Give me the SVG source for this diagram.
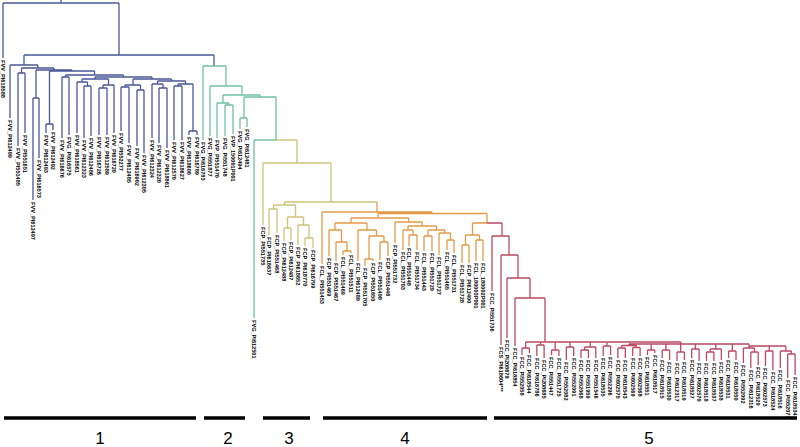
<svg xmlns="http://www.w3.org/2000/svg" width="800" height="447" viewBox="0 0 800 447">
<style>
.e{fill:none;stroke-width:1.3;stroke-linecap:butt}
.b{stroke:#4a5899}.g{stroke:#72c1a0}.y{stroke:#cdc37d}.o{stroke:#e39b48}.r{stroke:#bb4a62}
text{font-family:"Liberation Sans",Arial,sans-serif;font-size:5.6px;font-weight:bold;fill:#000}
.n{font-size:17px;font-weight:normal;text-anchor:middle;fill:#000}
.bar{stroke:#000;stroke-width:3.5}
</style>
<rect width="800" height="447" fill="#fff"/>
<g id="connectors">
<path class="e b" d="M61,0V3M3,3H119M3,3V58M119,3V55M24,55H214M214,55V66
M24,55V65M10,65H37.75M10,65V118M37.75,65V68M21.5,68H54
M21.5,68V73M18,73H25M18,73V146M25,73V133
M54,68V70M36,70H72M36,70V98M33,98H39M33,98V200M39,98V158
M72,70V71M49.5,71H94.5M49.5,71V124M46,124H53M46,124V133M53,124V130
M94.5,71V75M65.5,75H123.5M65.5,75V77M62,77H69M62,77V138M69,77V135
M123.5,75V77M95,77H152M95,77V79M82,79H108.5
M82,79V82M77,82H87.5M77,82V133M87.5,82V86M84,86H91M84,86V138M91,86V136
M108.5,79V85M103,85H114M103,85V88M99,88H107M99,88V135M107,88V135M114,85V133
M152,77V79M133,79H171.5M133,79V85M125,85H140.5
M125,85V87M121,87H129M121,87V131M129,87V143
M140.5,85V90M137,90H144M137,90V146M144,90V153
M171.5,79V81M157.5,81H185.5M157.5,81V84M152,84H163M152,84V138M163,84V88M159,88H167M159,88V143M167,88V148
M185.5,81V84M178,84H193M178,84V86M174,86H182M174,86V140M182,86V140M193,84V131M189,131H197M189,131V135M197,131V135"/>
<path class="e g" d="M203,66H226M203,66V140M226,66V86M210,86H242M210,86V136
M242,86V95M223,95H260M223,95V103M217,103H229M217,103V138M229,103V105M225,105H233M225,105V136M233,105V134
M260,95V97M244,97H276M244,97V118M240,118H247M240,118V129M247,118V127
M276,97V140M254,140H276M254,140V318"/>
<path class="e y" d="M276,140H297M297,140V163M263,163H331M263,163V225
M331,163V202M284.5,202H377M284.5,202V205M273.5,205H295.5
M273.5,205V209M269,209H277M269,209V235M277,209V233
M295.5,205V217M287.5,217H303.5M287.5,217V228M284,228H291M284,228V241M291,228V240
M303.5,217V225M298,225H309M298,225V245M309,225V238M305,238H313M305,238V246M313,238V248"/>
<path class="e o" d="M377,202V212M322,212H432M322,212V264M432,212V213.5M378,213.5H487
M378,213.5V218M351,218H408.6M351,218V223M335,223H367
M335,223V230M329,230H341.5M329,230V256M341.5,230V242M336,242H347M336,242V261M347,242V251M343,251H351M343,251V255M351,251V253
M367,223V230M358,230H376.5M358,230V261M376.5,230V236M369,236H384M369,236V259M365,259H373M365,259V266M373,259V261M384,236V242M380,242H388M380,242V260M388,242V256
M408.6,218V222M395,222H422.2M395,222V243M422.2,222V226M408,226H436.4
M408,226V230M403,230H413M403,230V250M413,230V235M409,235H417M409,235V246M417,235V250
M436.4,226V230M428,230H444.75M428,230V236M424,236H432M424,236V251M432,236V251M444.75,230V233M439,233H450.5M439,233V255M450.5,233V240M447,240H454M447,240V250M454,240V253
M487,213.5V223M472.5,223H487M472.5,223V235M465.5,235H479.5M465.5,235V245M462,245H469M462,245V263M469,245V263M479.5,235V240M476,240H483M476,240V261M483,240V261"/>
<path class="e r" d="M487,223H502M502,223V236M492,236H509M492,236V291
M509,236V255M501,255H518M501,255V345M518,255V278M507,278H530M507,278V338
M530,278V298M515,298H545M515,298V346M545,298V342
M525.7,342H680.7M629,344H749M749,346H785.9
M525.7,342V348M522,348H529.4M522,348V355M529.4,348V353
M540.5,342V345M536.8,345H544.1M536.8,345V356M544.1,345V358
M555.2,342V350M551.5,350H558.9M551.5,350V355M558.9,350V356
M570,342V347M566.3,347H573.7M566.3,347V360M573.7,347V356
M590.3,342V347M584.7,347H595.8M584.7,347V350M581,350H588.4M581,350V358M588.4,350V358M595.8,347V358
M606.9,342V346M603.2,346H610.6M603.2,346V356M610.6,346V355
M629,344V345.5M621.6,345.5H636.4M621.6,345.5V348M617.9,348H625.3M617.9,348V358M625.3,348V358M636.4,345.5V347.5M632.7,347.5H640.1M632.7,347.5V356M640.1,347.5V356
M651.2,344V350M647.5,350H654.8M647.5,350V355M654.8,350V353
M665.9,344V350M662.2,350H669.6M662.2,350V358M669.6,350V360
M680.7,342V352M677,352H684.4M677,352V361M684.4,352V360
M695.4,344V349M691.7,349H699.1M691.7,349V358M699.1,349V361
M715.8,344V349M710.2,349H721.3M710.2,349V352M706.5,352H713.9M706.5,352V361M713.9,352V361M721.3,349V360
M732.3,344V351M728.6,351H736M728.6,351V358M736,351V360
M749,344V348M743.4,348H754.5M743.4,348V363M754.5,348V352M750.8,352H758.2M750.8,352V368M758.2,352V365
M769.2,346V351M765.5,351H772.9M765.5,351V366M772.9,351V370
M785.9,346V351M780.3,351H791.4M780.3,351V368M791.4,351V354M787.7,354H795.1M787.7,354V378M795.1,354V375"/>
</g>
<g id="cluster1-leaves">
<text transform="translate(0.8,60)rotate(90)">FVV_PI618588</text>
<text transform="translate(7.8,120)rotate(90)">FVV_PI612499</text>
<text transform="translate(15.8,148)rotate(90)">FVV_PI551485</text>
<text transform="translate(22.8,135)rotate(90)">FVV_PI551651</text>
<text transform="translate(30.8,202)rotate(90)">FVV_PI612497</text>
<text transform="translate(36.8,160)rotate(90)">FVV_PI616573</text>
<text transform="translate(43.8,135)rotate(90)">FVV_PI612493</text>
<text transform="translate(50.8,132)rotate(90)">FVV_PI612492</text>
<text transform="translate(59.8,140)rotate(90)">FVV_PI616676</text>
<text transform="translate(66.8,137)rotate(90)">FVG_PI616575</text>
<text transform="translate(74.8,135)rotate(90)">FVV_PI618561</text>
<text transform="translate(81.8,140)rotate(90)">FVV_PI612323</text>
<text transform="translate(88.8,138)rotate(90)">FVV_PI612486</text>
<text transform="translate(96.8,137)rotate(90)">FVV_PI616726</text>
<text transform="translate(104.8,137)rotate(90)">FVV_PI612589</text>
<text transform="translate(111.8,135)rotate(90)">FVV_PI616720</text>
<text transform="translate(118.8,133)rotate(90)">FVV_PI552277</text>
<text transform="translate(126.8,145)rotate(90)">FVV_PI612485</text>
<text transform="translate(134.8,148)rotate(90)">FVV_PI616902</text>
<text transform="translate(141.8,155)rotate(90)">FVV_PI612305</text>
<text transform="translate(149.8,140)rotate(90)">FVV_PI612324</text>
<text transform="translate(156.8,145)rotate(90)">FVV_PI612320</text>
<text transform="translate(164.8,150)rotate(90)">FVV_PI618861</text>
<text transform="translate(171.8,142)rotate(90)">FVV_PI612570</text>
<text transform="translate(179.8,142)rotate(90)">FVV_PI618627</text>
<text transform="translate(186.8,137)rotate(90)">FVV_PI618600</text>
<text transform="translate(194.8,137)rotate(90)">FVV_PI616789</text>
</g>
<g id="cluster2-leaves">
<text transform="translate(200.8,142)rotate(90)">FVG_PI616783</text>
<text transform="translate(207.8,138)rotate(90)">FVG_PI551877</text>
<text transform="translate(214.8,140)rotate(90)">FVP_PI551470</text>
<text transform="translate(222.8,138)rotate(90)">FVG_PI551748</text>
<text transform="translate(230.8,136)rotate(90)">FVP_150001P001</text>
<text transform="translate(237.8,131)rotate(90)">FVG_PI612494</text>
<text transform="translate(244.8,129)rotate(90)">FVG_PI612481</text>
<text transform="translate(251.8,320)rotate(90)">FVG_PI612501</text>
</g>
<g id="cluster3-leaves">
<text transform="translate(260.8,227)rotate(90)">FCP_PI551735</text>
<text transform="translate(266.8,237)rotate(90)">FCP_PI618637</text>
<text transform="translate(274.8,235)rotate(90)">FCP_PI551468</text>
<text transform="translate(281.8,243)rotate(90)">FCP_PI612488</text>
<text transform="translate(288.8,242)rotate(90)">FCP_PI612487</text>
<text transform="translate(295.8,247)rotate(90)">FCP_PI618652</text>
<text transform="translate(302.8,248)rotate(90)">FCP_PI618770</text>
<text transform="translate(310.8,250)rotate(90)">FCP_PI616799</text>
</g>
<g id="cluster4-leaves">
<text transform="translate(319.8,266)rotate(90)">FCL_PI551453</text>
<text transform="translate(326.8,258)rotate(90)">FCP_PI551469</text>
<text transform="translate(333.8,263)rotate(90)">FCP_PI551467</text>
<text transform="translate(340.8,257)rotate(90)">FCL_PI551469</text>
<text transform="translate(348.8,255)rotate(90)">FCL_PI551511</text>
<text transform="translate(355.8,263)rotate(90)">FCL_PI612489</text>
<text transform="translate(362.8,268)rotate(90)">FCP_PI551705</text>
<text transform="translate(370.8,263)rotate(90)">FCP_PI551650</text>
<text transform="translate(377.8,262)rotate(90)">FCL_PI551498</text>
<text transform="translate(385.8,258)rotate(90)">FCP_PI551446</text>
<text transform="translate(392.8,245)rotate(90)">FCP_PI551732</text>
<text transform="translate(400.8,252)rotate(90)">FCL_PI551703</text>
<text transform="translate(406.8,248)rotate(90)">FCL_PI551448</text>
<text transform="translate(414.8,252)rotate(90)">FCL_PI551734</text>
<text transform="translate(421.8,253)rotate(90)">FCL_PI551443</text>
<text transform="translate(429.8,253)rotate(90)">FCL_PI551729</text>
<text transform="translate(436.8,257)rotate(90)">FCL_PI551727</text>
<text transform="translate(444.8,252)rotate(90)">FCL_PI551465</text>
<text transform="translate(451.8,255)rotate(90)">FCL_PI551731</text>
<text transform="translate(459.8,265)rotate(90)">FCL_PI551728</text>
<text transform="translate(466.8,265)rotate(90)">FCP_PI612490</text>
<text transform="translate(473.8,263)rotate(90)">FCL_180003P001</text>
<text transform="translate(480.8,263)rotate(90)">FCL_180002P001</text>
</g>
<g id="cluster5-leaves">
<text transform="translate(489.8,293)rotate(90)">FCC_PI551736</text>
<text transform="translate(498.8,347)rotate(90)">FCS_PI618604***</text>
<text transform="translate(504.8,340)rotate(90)">FCC_PI208679</text>
<text transform="translate(512.8,348)rotate(90)">FCC_PI618854</text>
<text transform="translate(519.8,357)rotate(90)">FCC_PI552058</text>
<text transform="translate(527.2,355)rotate(90)">FCC_PI618544</text>
<text transform="translate(534.6,358)rotate(90)">FCC_PI616786</text>
<text transform="translate(541.9,360)rotate(90)">FCC_PI208685</text>
<text transform="translate(549.3,357)rotate(90)">FCC_PI551447</text>
<text transform="translate(556.7,358)rotate(90)">FCC_PI551725</text>
<text transform="translate(564.1,362)rotate(90)">FCC_PI552082</text>
<text transform="translate(571.5,358)rotate(90)">FCC_PI552091</text>
<text transform="translate(578.8,360)rotate(90)">FCC_PI552068</text>
<text transform="translate(586.2,360)rotate(90)">FCC_PI551959</text>
<text transform="translate(593.6,360)rotate(90)">FCC_PI551546</text>
<text transform="translate(601,358)rotate(90)">FCC_PI618535</text>
<text transform="translate(608.4,357)rotate(90)">FCC_PI552296</text>
<text transform="translate(615.7,360)rotate(90)">FCC_PI602575</text>
<text transform="translate(623.1,360)rotate(90)">FCC_PI618543</text>
<text transform="translate(630.5,358)rotate(90)">FCC_PI602569</text>
<text transform="translate(637.9,358)rotate(90)">FCC_PI602568</text>
<text transform="translate(645.3,357)rotate(90)">FCC_PI618551</text>
<text transform="translate(652.6,355)rotate(90)">FCC_PI618517</text>
<text transform="translate(660,360)rotate(90)">FCC_PI618515</text>
<text transform="translate(667.4,362)rotate(90)">FCC_PI618530</text>
<text transform="translate(674.8,363)rotate(90)">FCC_PI612317</text>
<text transform="translate(682.2,362)rotate(90)">FCC_PI618519</text>
<text transform="translate(689.5,360)rotate(90)">FCC_PI618527</text>
<text transform="translate(696.9,363)rotate(90)">FCC_PI602570</text>
<text transform="translate(704.3,363)rotate(90)">FCC_PI618518</text>
<text transform="translate(711.7,363)rotate(90)">FCC_PI618537</text>
<text transform="translate(719.1,362)rotate(90)">FCC_PI618538</text>
<text transform="translate(726.4,360)rotate(90)">FCC_PI618531</text>
<text transform="translate(733.8,362)rotate(90)">FCC_PI618550</text>
<text transform="translate(741.2,365)rotate(90)">FCC_PI552092</text>
<text transform="translate(748.6,370)rotate(90)">FCC_PI612316</text>
<text transform="translate(756,367)rotate(90)">FCC_PI618529</text>
<text transform="translate(763.3,368)rotate(90)">FCC_PI602573</text>
<text transform="translate(770.7,372)rotate(90)">FCC_PI618524</text>
<text transform="translate(778.1,370)rotate(90)">FCC_PI618516</text>
<text transform="translate(785.5,380)rotate(90)">FCC_PI552077</text>
<text transform="translate(792.9,377)rotate(90)">FCC_PI618534</text>
</g>
<g id="groups">
<path class="bar" d="M4,418H196M204,418H245M263,418H310M323,418H487M494,418H797"/>
<text class="n" x="100" y="444">1</text>
<text class="n" x="228" y="444">2</text>
<text class="n" x="289" y="444">3</text>
<text class="n" x="405" y="444">4</text>
<text class="n" x="649" y="444">5</text>
</g>
</svg>
